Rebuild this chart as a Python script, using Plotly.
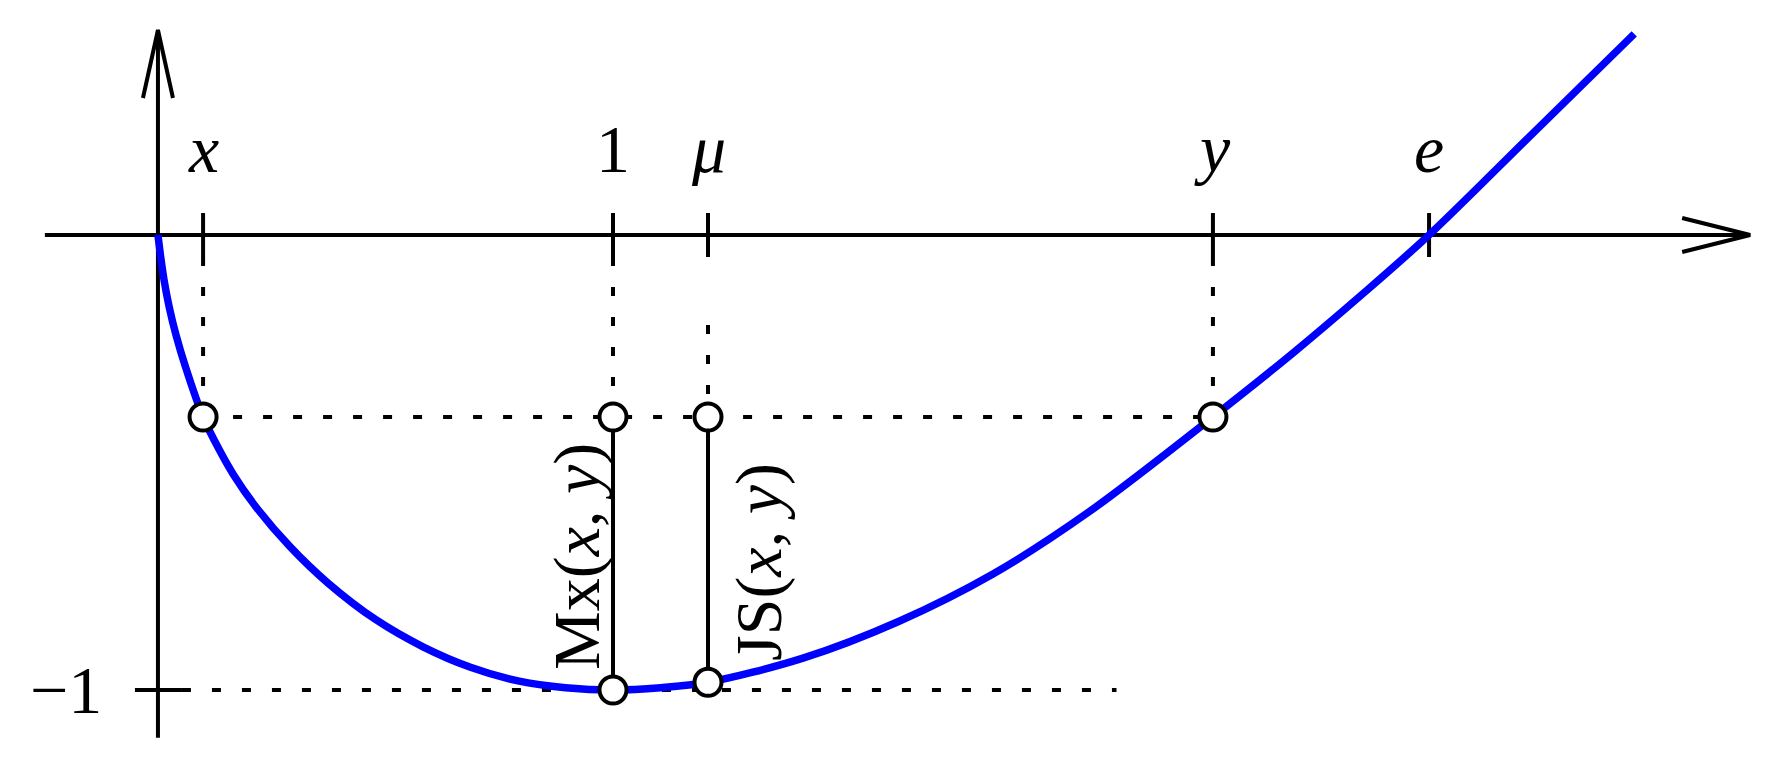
import plotly.graph_objects as go

# ---- data (t, f(t)) ----
curve_t = [0.042, 0.048, 0.055, 0.066, 0.080, 0.100, 0.137, 0.170, 0.200, 0.250,
           0.320, 0.400, 0.500, 0.600, 0.700, 0.800, 0.900, 1.000, 1.100, 1.200,
           1.400, 1.600, 1.800, 2.000, 2.263, 2.432, 2.581, 2.718, 2.937, 3.150]
curve_f = [0.000, -0.050, -0.100, -0.160, -0.220, -0.290, -0.400, -0.470, -0.525, -0.600,
           -0.685, -0.765, -0.845, -0.905, -0.950, -0.980, -0.995, -1.000, -0.995, -0.983,
           -0.930, -0.850, -0.745, -0.610, -0.400, -0.259, -0.127, 0.000, 0.224, 0.442]

tick_labels = ["x", "1", "μ", "y", "e"]
tick_pos = [0.137, 1.0, 1.2, 2.263, 2.718]
level = -0.40            # f(x) = f(y)
minimum = -1.0
mu_value = -0.983        # f(mu)
mx_label = "Mx(<i>x</i>, <i>y</i>)"
js_label = "JS(<i>x</i>, <i>y</i>)"
ytick_label = "−1"

# ---- frame (475 px per unit in t, 455 px per unit in f; page body offset 8 px) ----
W, H = 1769, 775
sx, sy = 475.0, 455.0
off = 8
XR = [-(138 - off) / sx, -(138 - off) / sx + W / sx]
YR = [(235 - off) / sy - H / sy, (235 - off) / sy]
axis_t = 0.042           # vertical axis location
BLACK = "#000000"
FONT = "Liberation Serif"

fig = go.Figure()

def line(xs, ys, width=4, dash=None, color=BLACK):
    fig.add_trace(go.Scatter(x=xs, y=ys, mode="lines", hoverinfo="skip",
                             line=dict(color=color, width=width, dash=dash)))

# axes
x_axis_start, x_axis_end = -0.196, 3.394
y_top, y_bottom = 0.4505, -1.105
line([x_axis_start, x_axis_end], [0, 0])
line([axis_t, axis_t], [y_top, y_bottom])
# arrow heads (open)
ah_len, ah_w = 68, 17
line([x_axis_end - ah_len / sx, x_axis_end, x_axis_end - ah_len / sx],
     [ah_w / sy, 0, -ah_w / sy])
line([axis_t - 15 / sx, axis_t, axis_t + 15 / sx],
     [y_top - ah_len / sy, y_top, y_top - ah_len / sy])

# ticks
tk = 22
for p in tick_pos:
    line([p, p], [tk / sy, -tk / sy])
line([axis_t - 23 / sx, axis_t + 24 / sx], [minimum, minimum])

# dotted guides
dot = "9px,21px"
line([tick_pos[0], tick_pos[0]], [-tk / sy, level], dash=dot)
line([tick_pos[1], tick_pos[1]], [-tk / sy, level], dash=dot)
line([tick_pos[2], tick_pos[2]], [-0.198, level], dash=dot)
line([tick_pos[3], tick_pos[3]], [-tk / sy, level], dash=dot)
line([tick_pos[0], tick_pos[3]], [level, level], dash=dot)
line([axis_t + 24 / sx, 2.06], [minimum, minimum], dash=dot)

# solid verticals
line([tick_pos[1], tick_pos[1]], [level, minimum])
line([tick_pos[2], tick_pos[2]], [level, mu_value])

# curve
fig.add_trace(go.Scatter(x=curve_t, y=curve_f, mode="lines", hoverinfo="skip",
                         line=dict(color="#0000ff", width=7.5, shape="spline", smoothing=0.9)))

# circles
fig.add_trace(go.Scatter(
    x=[tick_pos[0], tick_pos[1], tick_pos[2], tick_pos[3], tick_pos[1], tick_pos[2]],
    y=[level, level, level, level, minimum, mu_value],
    mode="markers", hoverinfo="skip",
    marker=dict(size=27, color="white", line=dict(color=BLACK, width=4))))

# labels
for lab, p in zip(tick_labels, tick_pos):
    txt = lab if lab == "1" else f"<i>{lab}</i>"
    fig.add_annotation(x=p, y=0.19, text=txt, showarrow=False, xanchor="center",
                       yanchor="middle", font=dict(family=FONT, size=68, color=BLACK))
fig.add_annotation(x=-0.152, y=minimum, text=ytick_label, showarrow=False,
                   xanchor="center", yanchor="middle",
                   font=dict(family=FONT, size=68, color=BLACK))
fig.add_annotation(x=tick_pos[1] - 36 / sx, y=-(557 - 235) / sy, text=mx_label,
                   showarrow=False, textangle=-90, xanchor="center", yanchor="middle",
                   font=dict(family=FONT, size=66, color=BLACK))
fig.add_annotation(x=tick_pos[2] + 51 / sx, y=-(562 - 235) / sy, text=js_label,
                   showarrow=False, textangle=-90, xanchor="center", yanchor="middle",
                   font=dict(family=FONT, size=66, color=BLACK))

fig.update_layout(
    width=W, height=H, margin=dict(l=0, r=0, t=0, b=0),
    paper_bgcolor="white", plot_bgcolor="white", showlegend=False,
    xaxis=dict(range=XR, visible=False, fixedrange=True),
    yaxis=dict(range=YR, visible=False, fixedrange=True),
)
fig.write_html("out.html")
